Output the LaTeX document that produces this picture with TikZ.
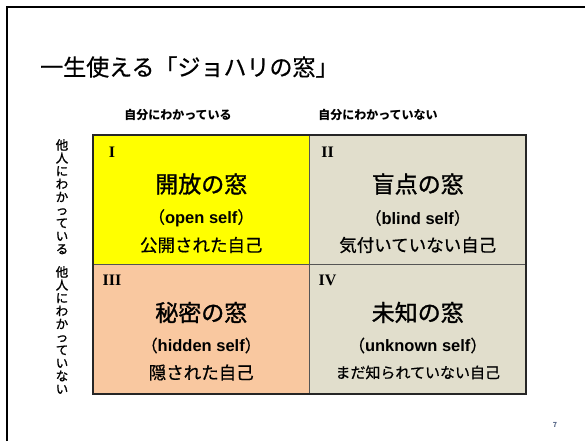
\documentclass[tikz,border=0pt]{standalone}
\usepackage{fontspec}
\setmainfont{Noto Sans CJK JP}
\newfontfamily\romanfont{Liberation Serif}
\newfontfamily\latinfont{Liberation Sans}
\newfontfamily\jpmed[FakeBold=0.6]{Noto Sans CJK JP}
\newfontfamily\jpsemi[FakeBold=1.3]{Noto Sans CJK JP}
\definecolor{cyellow}{HTML}{FFFF00}
\definecolor{cbeige}{HTML}{E1DECC}
\definecolor{cpeach}{HTML}{F9C8A0}
\definecolor{gridgray}{HTML}{555555}
\definecolor{pagenum}{HTML}{5A6A8A}
\begin{document}
\begin{tikzpicture}[x=1pt,y=-1pt,
  cell/.style={draw=gridgray, line width=0.8pt, minimum width=216.5pt, minimum height=129.5pt, inner sep=0pt, outer sep=0pt},
  numeral/.style={font=\romanfont\bfseries\fontsize{16}{16}\selectfont, inner sep=0pt},
  bigname/.style={font=\jpsemi\fontsize{23}{23}\selectfont, inner sep=0pt},
  engname/.style={font=\jpmed\fontsize{16.5}{16.5}\selectfont, inner sep=0pt},
  subname/.style={font=\jpmed\fontsize{17.5}{17.5}\selectfont, inner sep=0pt},
  header/.style={font=\bfseries\fontsize{12}{12}\selectfont, inner sep=0pt},
  vlabel/.style={font=\jpsemi\fontsize{12.5}{13}\selectfont, align=center, inner sep=0pt}
]
\useasboundingbox (0,0) rectangle (585,441);
% slide frame
\draw[line width=1.5pt] (7,441) -- (7,7) -- (585,7);
% title
\node[anchor=west, inner sep=0pt, font=\jpmed\fontsize{23}{23}\selectfont] (title) at (40,67) {一生使える「ジョハリの窓」};
% headers
\node[header] (h1) at (178,115) {自分にわかっている};
\node[header] (h2) at (378,115) {自分にわかっていない};
% vertical labels
\node[vlabel, anchor=north] (v1) at (62,139) {他\\人\\に\\わ\\か\\っ\\て\\い\\る};
\node[vlabel, anchor=north] (v2) at (62,266) {他\\人\\に\\わ\\か\\っ\\て\\い\\な\\い};
% cells
\node[cell, fill=cyellow, anchor=north west] (c1) at (93,135) {};
\node[cell, fill=cbeige, anchor=north west] (c2) at (309.5,135) {};
\node[cell, fill=cpeach, anchor=north west] (c3) at (93,264.5) {};
\node[cell, fill=cbeige, anchor=north west] (c4) at (309.5,264.5) {};
\draw[line width=2pt, black!85] (c1.north west) rectangle (c4.south east);
% numerals
\node[numeral] (n1) at ([xshift=19pt,yshift=-17pt]c1.north west) {I};
\node[numeral] (n2) at ([xshift=18pt,yshift=-17pt]c2.north west) {II};
\node[numeral] (n3) at ([xshift=19pt,yshift=-16pt]c3.north west) {III};
\node[numeral] (n4) at ([xshift=18pt,yshift=-16pt]c4.north west) {IV};
% cell 1
\node[bigname] (t1) at ([yshift=-49pt]c1.north) {開放の窓};
\node[engname] (e1) at ([yshift=-83pt]c1.north) {（{\latinfont\bfseries open self}）};
\node[subname] (s1) at ([yshift=-110pt]c1.north) {公開された自己};
% cell 2
\node[bigname] (t2) at ([yshift=-49pt]c2.north) {盲点の窓};
\node[engname] (e2) at ([yshift=-83pt]c2.north) {（{\latinfont\bfseries blind self}）};
\node[subname] (s2) at ([yshift=-110pt]c2.north) {気付いていない自己};
% cell 3
\node[bigname] (t3) at ([yshift=-48pt]c3.north) {秘密の窓};
\node[engname] (e3) at ([yshift=-81pt]c3.north) {（{\latinfont\bfseries hidden self}）};
\node[subname] (s3) at ([yshift=-108pt]c3.north) {隠された自己};
% cell 4
\node[bigname] (t4) at ([yshift=-48pt]c4.north) {未知の窓};
\node[engname] (e4) at ([yshift=-81pt]c4.north) {（{\latinfont\bfseries unknown self}）};
\node[subname, font=\jpmed\fontsize{15}{15}\selectfont] (s4) at ([yshift=-108pt]c4.north) {まだ知られていない自己};
% page number
\node[inner sep=0pt, font=\bfseries\fontsize{7}{7}\selectfont, text=pagenum] (pg) at (555,425) {7};
\end{tikzpicture}
\end{document}
